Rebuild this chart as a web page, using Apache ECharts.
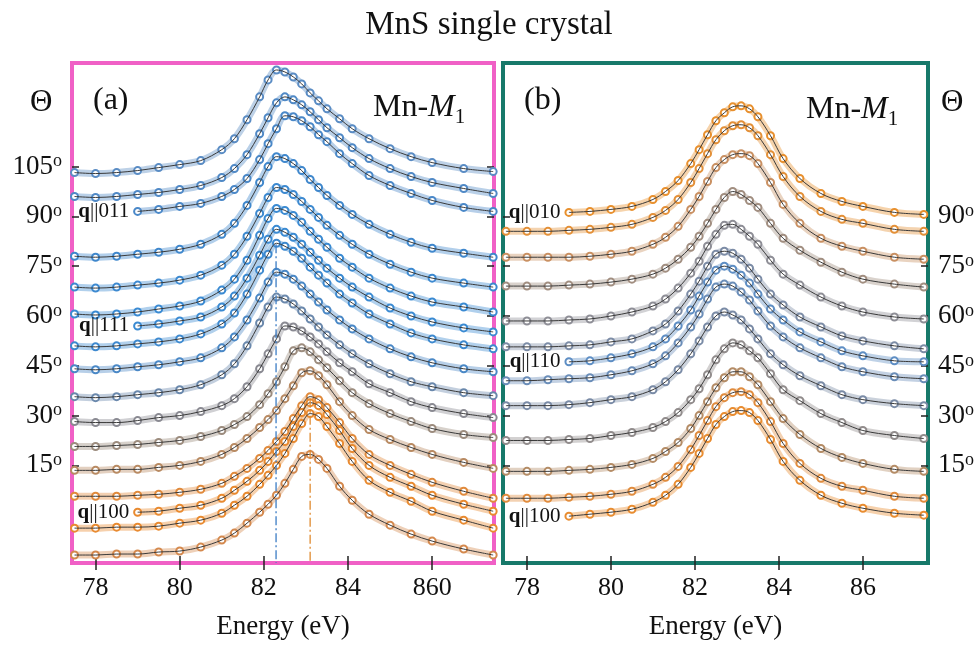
<!DOCTYPE html>
<html><head><meta charset="utf-8">
<script src="https://cdn.jsdelivr.net/npm/echarts@6/dist/echarts.min.js"></script>
<style>html,body{margin:0;padding:0;background:#fff}#c{width:978px;height:645px}</style>
</head><body><div id="c"></div>
<script>
// Photon energy grid (eV)
const energy = [77.5,78,78.5,79,79.5,80,80.5,81,81.3,81.6,81.9,82.1,82.3,82.5,82.7,82.9,83.1,83.3,83.5,83.8,84.1,84.5,85,85.5,86,86.75,87.45];

// Panel (a): stacked spectra, top (q||011 side) to bottom (q||100), offset intensity (a.u.)
const a01 = [392,391,392,394,397,400,404,415,426,445,468,485,495,493,488,481,472,464,456,446,436,426,416,408,402,396,393];
const a02 = [368,367,368,370,372,375,379,387,396,410,431,447,462,468,465,460,453,445,437,427,417,406,396,388,382,376,371];
const a03 = [null,null,null,353,355,358,361,368,375,386,405,421,436,449,448,444,438,430,423,411,401,389,379,371,364,357,353];
const a04 = [308,307,308,310,312,315,320,330,341,359,382,398,408,406,401,394,385,377,369,359,350,340,330,322,316,311,307];
const a05 = [277,276,277,279,281,284,289,299,310,328,351,367,377,375,370,363,355,347,339,329,320,310,300,292,286,281,277];
const a06 = [250,249,250,252,255,258,263,274,285,304,329,346,356,354,349,342,333,325,317,306,297,286,276,268,262,257,252];
const a07 = [null,null,null,238,240,243,247,257,268,286,309,325,335,332,327,320,312,304,296,286,277,267,256,248,242,236,232];
const a08 = [218,217,218,220,222,225,230,240,251,270,294,310,321,318,313,306,297,289,281,270,261,250,240,231,225,219,215];
const a09 = [195,194,195,197,199,202,206,216,227,244,266,282,292,290,285,278,270,262,254,244,235,225,215,207,201,195,192];
const a10 = [167,166,167,169,171,174,179,189,200,218,241,257,267,265,260,253,245,237,229,219,210,200,190,182,177,171,168];
const a11 = [142,141,141,143,146,148,152,158,165,177,195,210,225,238,237,233,227,220,212,201,192,180,171,162,156,150,146];
const a12 = [117,117,118,119,121,123,127,133,139,147,159,170,182,197,213,216,212,204,196,183,171,160,150,142,135,129,126];
const a13 = [93,93,94,94,96,98,102,109,116,125,136,144,153,165,178,191,193,188,179,162,148,134,124,116,109,101,95];
const a14 = [67,67,67,68,69,71,74,80,87,95,105,113,122,132,145,158,167,164,156,141,125,109,98,89,81,72,65];
const a15 = [null,null,null,51,52,55,58,65,73,82,93,102,112,122,137,151,161,158,149,133,115,98,86,77,68,59,52];
const a16 = [35,35,36,36,37,40,43,50,58,67,79,88,98,110,125,140,150,147,137,120,102,83,71,62,52,43,35];
const a17 = [8,8,9,9,11,12,16,23,30,40,51,59,68,80,94,107,109,104,95,77,63,49,38,29,22,14,8];

// Panel (b): stacked spectra, top (q||010) to bottom (q||100)
const b01 = [null,null,null,352,353,355,358,365,373,384,401,415,430,444,452,458,459,456,448,429,406,386,371,363,358,352,350];
const b02 = [333,333,333,334,335,337,340,347,354,365,382,396,411,425,434,439,440,437,429,410,388,368,353,345,341,335,333];
const b03 = [307,307,307,307,308,310,313,320,327,338,355,368,383,397,405,410,411,409,401,382,360,341,326,318,313,307,305];
const b04 = [278,278,278,279,280,282,285,290,296,305,317,328,341,355,367,373,370,364,357,341,326,314,302,292,285,280,277];
const b05 = [243,243,243,244,245,248,252,258,265,276,291,303,318,330,339,340,335,328,320,304,290,279,267,258,252,247,245];
const b06 = [217,217,217,218,219,222,225,233,240,253,270,283,298,310,313,311,305,296,285,270,259,247,237,228,223,218,215];
const b07 = [null,null,null,202,203,206,210,217,225,238,254,268,282,294,298,295,289,281,270,255,244,232,222,213,208,203,202];
const b08 = [183,183,184,185,186,189,193,200,208,221,237,250,265,277,280,278,272,264,253,238,227,216,206,197,192,187,185];
const b09 = [158,158,158,159,161,164,167,174,182,194,210,223,237,248,252,249,244,235,225,210,199,188,178,169,164,160,158];
const b10 = [123,123,123,124,125,128,131,136,142,151,164,175,189,204,215,221,219,213,206,190,174,163,150,141,133,128,125];
const b11 = [92,92,92,93,94,96,99,105,112,121,135,148,162,176,186,192,192,187,179,162,145,129,115,106,100,94,92];
const b12 = [65,65,65,66,67,69,72,79,86,97,114,128,143,157,166,171,172,169,161,142,120,100,85,77,73,67,65];
const b13 = [null,null,null,47,49,51,54,61,68,79,96,110,125,139,147,152,153,151,143,124,102,83,68,60,55,50,48];

const panelA = [a01,a02,a03,a04,a05,a06,a07,a08,a09,a10,a11,a12,a13,a14,a15,a16,a17];
const panelB = [b01,b02,b03,b04,b05,b06,b07,b08,b09,b10,b11,b12,b13];

const colorsA = ['#5a8cc4','#5089c6','#4a88c8','#3f87cc','#3c89d0','#3a8ad2','#3a8ad2','#3d89cf','#4a88c6','#6a88ac','#8a8a92','#9c8c7e','#b88a62','#e08a3c','#e88a30','#e88a30','#d4894e'];
const colorsB = ['#e8902e','#e39038','#c99062','#a18e80','#8e8e96','#7c8ca6','#5e8ec4','#6a8db8','#7a8ba6','#918c8c','#b48c66','#e08c3e','#e88c30'];

// direction labels: curve index -> text
const qCurvesA = [2, 6, 14];
const qTextA = ['011','111','100'];
const qCurvesB = [0, 6, 12];
const qTextB = ['010','110','100'];

// axis ticks
const xTickValues = [78,80,82,84,86];
const xTickLabelsA = ['78','80','82','84','860'];
const xTickLabelsB = ['78','80','82','84','86'];
const thetaPos = [98,148,198,248,298,348,398];
const thetaLabels = ['15','30','45','60','75','90','105'];
const thetaPosB = [98,148,198,248,298,348];

// reference peak positions (panel a)
const refEnergy = [82.29, 83.1];
const refTop = [320, 165];
const refColor = ['#3a7cc4','#e08a30'];

const SERIF = "'Liberation Serif','Times New Roman',serif";
const INK = '#111';

function curveSeries(vals, color, axisIdx, qText) {
  const pts = [];
  vals.forEach((v, i) => { if (v != null) pts.push([energy[i], v]); });
  const data = pts.map((p, k) => (k === 0 && qText) ? {
    value: p,
    label: {
      show: true, position: 'left', distance: 4,
      formatter: '{b|q}{n|||' + qText + '}',
      rich: {
        b: {fontFamily: SERIF, fontSize: 21, fontWeight: 'bold', color: INK},
        n: {fontFamily: SERIF, fontSize: 21, color: INK}
      }
    }
  } : p);
  return [
    {type: 'line', xAxisIndex: axisIdx, yAxisIndex: axisIdx, data: data, smooth: 0.35,
     symbol: 'emptyCircle', symbolSize: 7, showSymbol: true, showAllSymbol: true,
     itemStyle: {color: color, borderColor: color, borderWidth: 1.2},
     lineStyle: {color: color, width: 7, opacity: 0.4}, silent: true, z: 2},
    {type: 'line', xAxisIndex: axisIdx, yAxisIndex: axisIdx, data: pts, smooth: 0.35,
     symbol: 'none', lineStyle: {color: '#3a3a3a', width: 1}, silent: true, z: 3}
  ];
}

const series = [];
panelA.forEach((c, i) => {
  const qi = qCurvesA.indexOf(i);
  series.push(...curveSeries(c, colorsA[i], 0, qi >= 0 ? qTextA[qi] : null));
});
panelB.forEach((c, i) => {
  const qi = qCurvesB.indexOf(i);
  series.push(...curveSeries(c, colorsB[i], 2, qi >= 0 ? qTextB[qi] : null));
});
refEnergy.forEach((e, i) => {
  series.push({type: 'line', xAxisIndex: 0, yAxisIndex: 0, data: [[e, refTop[i]], [e, 0]],
    symbol: 'none', lineStyle: {color: refColor[i], width: 1.3, type: [9, 3, 2, 3]}, silent: true, z: 4});
});

const tickStyle = {color: '#222', width: 1.5};
function xAx(grid, pos, labels, min, max) {
  const o = {gridIndex: grid, type: 'value', min: min, max: max, position: pos,
    axisLine: {show: false}, splitLine: {show: false},
    axisTick: {show: true, inside: true, length: 7, customValues: xTickValues, lineStyle: tickStyle},
    axisLabel: {show: false}};
  if (labels) {
    o.axisLabel = {show: true, customValues: xTickValues, margin: 12,
      formatter: v => labels[xTickValues.indexOf(v)] || '',
      fontFamily: SERIF, fontSize: 26, color: INK};
    o.name = 'Energy (eV)'; o.nameLocation = 'middle'; o.nameGap = 50;
    o.nameTextStyle = {fontFamily: SERIF, fontSize: 27, color: INK};
  }
  return o;
}
function yAx(grid, pos, ticks, showLabels) {
  const o = {gridIndex: grid, type: 'value', min: 0, max: 502, position: pos,
    axisLine: {show: false}, splitLine: {show: false},
    axisTick: {show: true, inside: true, length: 7, customValues: ticks, lineStyle: tickStyle},
    axisLabel: {show: false}};
  if (showLabels) {
    o.axisLabel = {show: true, customValues: ticks, margin: 10,
      formatter: v => { const i = thetaPos.indexOf(v); return i < 0 ? '' : '{n|' + thetaLabels[i] + '}{s|o}'; },
      rich: {
        n: {fontFamily: SERIF, fontSize: 27, color: INK, lineHeight: 28},
        s: {fontFamily: SERIF, fontSize: 18, color: INK, lineHeight: 17, verticalAlign: 'top'}
      }};
  }
  return o;
}

const mn = (x, y) => ({type: 'text', x: x, y: y, silent: true, style: {
  text: '{n|Mn-}{i|M}{s|1}', verticalAlign: 'middle', align: 'left',
  rich: {
    n: {fontFamily: SERIF, fontSize: 32, fill: INK, lineHeight: 40},
    i: {fontFamily: SERIF, fontSize: 32, fontStyle: 'italic', fill: INK, lineHeight: 40},
    s: {fontFamily: SERIF, fontSize: 21, fill: INK, lineHeight: 22, verticalAlign: 'bottom'}
  }}});
const plain = (x, y, t, size) => ({type: 'text', x: x, y: y, silent: true,
  style: {text: t, font: size + 'px ' + SERIF, fill: INK, align: 'left', verticalAlign: 'middle'}});

const option = {
  animation: false,
  backgroundColor: '#fff',
  title: {text: 'MnS single crystal', left: 'center', top: 4,
    textStyle: {fontFamily: SERIF, fontSize: 33, fontWeight: 'normal', color: INK}},
  grid: [
    {left: 72, top: 63, width: 422, height: 502, show: true, borderColor: '#f060c6', borderWidth: 4, backgroundColor: 'transparent'},
    {left: 503, top: 63, width: 425, height: 502, show: true, borderColor: '#17796a', borderWidth: 4, backgroundColor: 'transparent'}
  ],
  xAxis: [
    xAx(0, 'bottom', xTickLabelsA, 77.44, 87.47),
    xAx(0, 'top', null, 77.44, 87.47),
    xAx(1, 'bottom', xTickLabelsB, 77.43, 87.55),
    xAx(1, 'top', null, 77.43, 87.55)
  ],
  yAxis: [
    yAx(0, 'left', thetaPos, true),
    yAx(0, 'right', thetaPos, false),
    yAx(1, 'left', thetaPosB, false),
    yAx(1, 'right', thetaPosB, true)
  ],
  series: series,
  graphic: [
    plain(30, 103, 'Θ', 31),
    plain(941, 103, 'Θ', 31),
    plain(93, 101, '(a)', 32),
    plain(524, 101, '(b)', 32),
    mn(373, 108),
    mn(806, 110)
  ]
};

const chart = echarts.init(document.getElementById('c'), null, {renderer: 'canvas'});
chart.setOption(option);
</script>
</body></html>
